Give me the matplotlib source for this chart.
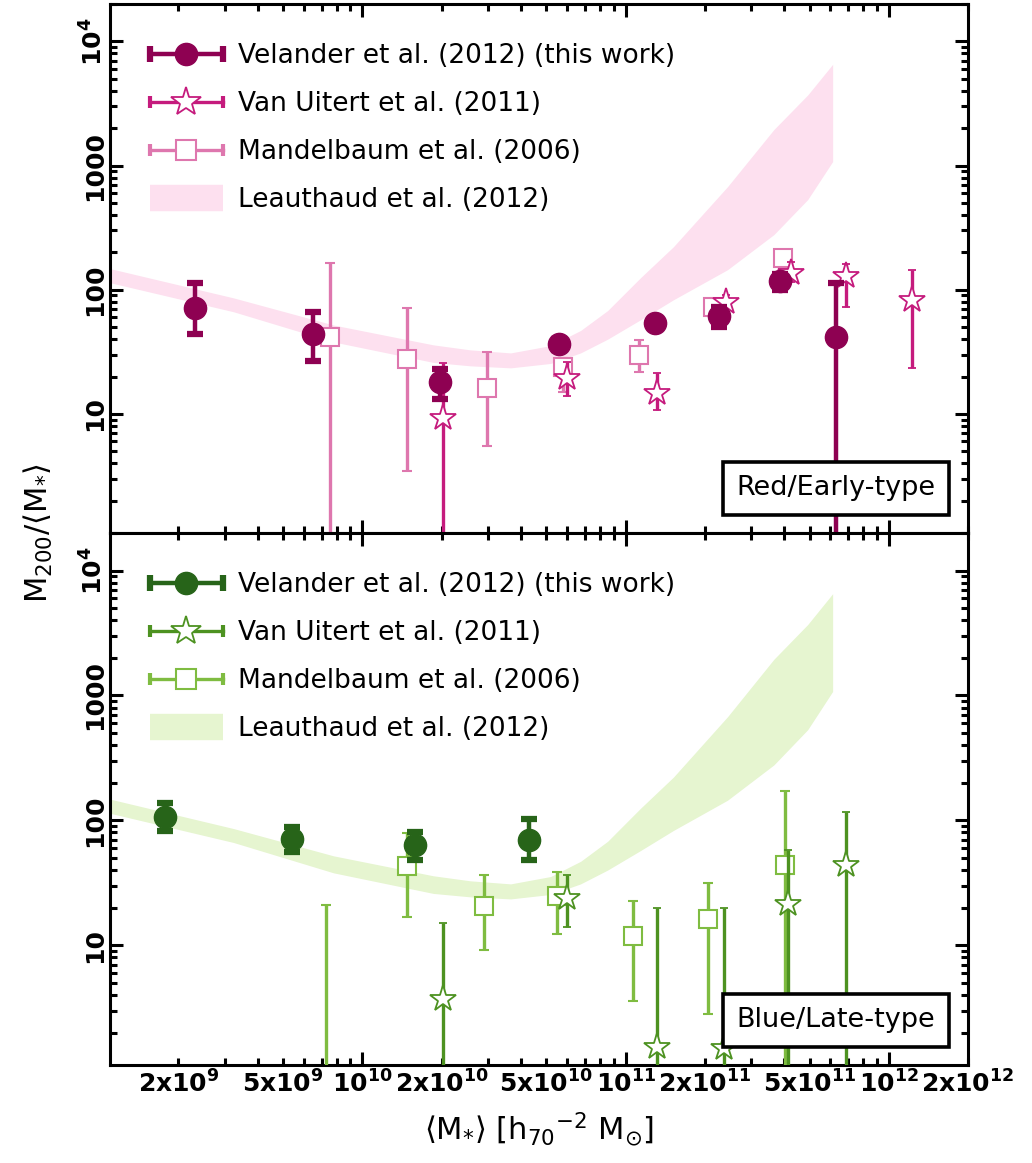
import numpy as np
import matplotlib
matplotlib.use("Agg")
import matplotlib.pyplot as plt
from matplotlib.lines import Line2D
from matplotlib.legend_handler import HandlerLine2D
from matplotlib.ticker import LogLocator, FuncFormatter, NullFormatter

plt.rcParams["font.family"] = ["DejaVu Sans"]
plt.rcParams["mathtext.fontset"] = "dejavusans"

# Leauthaud et al. (2012) prediction band (shared by both panels)
band_mass = [1.1e9, 3.24e9, 7.77e9, 1.86e10, 2.57e10, 3.66e10, 5.19e10, 6.75e10,
             8.55e10, 1.14e11, 1.52e11, 2.44e11, 3.66e11, 4.92e11, 6.12e11]
band_lo = [114, 66.5, 38, 26, 24.4, 23.5, 25.5, 31, 40, 57.3, 83, 145, 278, 532, 1077]
band_hi = [148, 86, 52, 36, 32.8, 31, 35.5, 47, 68, 125, 222, 676, 1950, 3700, 6530]

# red / early-type galaxies
vel_red_m = [2.32e9, 6.5e9, 1.98e10, 5.6e10, 1.29e11, 2.26e11, 3.85e11, 6.3e11]
vel_red_y = [71.6, 44, 18.1, 36.7, 54, 62, 118, 41.8]
vel_red_lo = [44, 26.7, 13.2, 33, 50, 50, 100, 0.3]
vel_red_hi = [114, 66.5, 23, 40, 58, 72, 135, 114]

vu_red_m = [2.03e10, 6.0e10, 1.32e11, 2.4e11, 4.24e11, 6.9e11, 1.23e12]
vu_red_y = [9.3, 19.5, 14.8, 80, 137, 130, 83]
vu_red_lo = [0.3, 14, 10.8, 70, 115, 73, 23.5]
vu_red_hi = [25.8, 26, 21.4, 90, 168, 162, 145]

md_red_m = [7.55e9, 1.48e10, 2.98e10, 5.8e10, 1.12e11, 2.14e11, 3.95e11]
md_red_y = [41.8, 27.8, 16.2, 24, 30, 73, 181]
md_red_lo = [0.3, 3.5, 5.5, 15, 21.8, 65, 150]
md_red_hi = [165, 71.6, 31.6, 28, 39.5, 85, 200]

# blue / late-type galaxies
vel_blue_m = [1.78e9, 5.42e9, 1.58e10, 4.28e10]
vel_blue_y = [106, 70.4, 63, 70]
vel_blue_lo = [81.5, 56, 48, 48.5]
vel_blue_hi = [137, 88, 80, 102]

vu_blue_m = [2.03e10, 6.0e10, 1.32e11, 2.36e11, 4.13e11, 6.9e11]
vu_blue_y = [3.74, 24, 1.53, 1.5, 21.4, 44]
vu_blue_lo = [0.3, 14, 0.3, 0.3, 0.3, 0.3]
vu_blue_hi = [15, 36.7, 19.9, 20, 58, 116]

md_blue_m = [7.3e9, 1.48e10, 2.89e10, 5.5e10, 1.07e11, 2.05e11, 4.03e11]
md_blue_y = [0.5, 43, 20.7, 24.8, 11.8, 16.2, 44]
md_blue_lo = [0.2, 16.8, 9.1, 12.3, 3.6, 2.83, 0.3]
md_blue_hi = [21, 78.5, 36.7, 38.8, 22.6, 31.6, 171]

LABELS = ["Velander et al. (2012) (this work)", "Van Uitert et al. (2011)",
          "Mandelbaum et al. (2006)", "Leauthaud et al. (2012)"]
RED_COLS = ["#8e0152", "#c51b7d", "#de77ae", "#fde0ef"]
BLUE_COLS = ["#276419", "#4d9221", "#7fbc41", "#e6f5d0"]

XLIM = (1.1e9, 2.0e12)
YLIM = (1.1, 2.0e4)


def yerr(y, lo, hi):
    y = np.asarray(y)
    return [y - np.asarray(lo), np.asarray(hi) - y]


def x_fmt(v, pos):
    e = int(np.floor(np.log10(v) + 1e-6))
    m = int(round(v / 10 ** e))
    if m == 1:
        return rf"$\mathbf{{10^{{{e}}}}}$"
    if m in (2, 5):
        return rf"$\mathbf{{{m}x10^{{{e}}}}}$"
    return ""


def y_fmt(v, pos):
    if v >= 1e4:
        return r"$\mathbf{10^{4}}$"
    return f"{int(round(v))}"


def panel(ax, cols, vel, vu, md, tag):
    ax.fill_between(band_mass, band_lo, band_hi, color=cols[3], lw=0, zorder=1)

    ax.errorbar(md[0], md[1], yerr=yerr(*md[1:]), fmt="s", ms=13.5, mfc="white",
                mec=cols[2], mew=1.5, color=cols[2], elinewidth=2.4,
                capsize=3.6, capthick=3, zorder=3)
    ax.errorbar(vu[0], vu[1], yerr=yerr(*vu[1:]), fmt="*", ms=20, mfc="white",
                mec=cols[1], mew=1.3, color=cols[1], elinewidth=2.4,
                capsize=3, capthick=3, zorder=4)
    ax.errorbar(vel[0], vel[1], yerr=yerr(*vel[1:]), fmt="o", ms=16,
                color=cols[0], elinewidth=3.2, capsize=5.8, capthick=4.5, zorder=5)

    ax.set_xscale("log")
    ax.set_yscale("log")
    ax.set_xlim(*XLIM)
    ax.set_ylim(*YLIM)

    ax.xaxis.set_major_locator(LogLocator(base=10))
    ax.xaxis.set_minor_locator(LogLocator(base=10, subs=np.arange(2, 10)))
    ax.xaxis.set_major_formatter(FuncFormatter(x_fmt))
    ax.xaxis.set_minor_formatter(FuncFormatter(x_fmt))
    ax.yaxis.set_major_locator(LogLocator(base=10))
    ax.yaxis.set_minor_locator(LogLocator(base=10, subs=np.arange(2, 10)))
    ax.yaxis.set_major_formatter(FuncFormatter(y_fmt))
    ax.yaxis.set_minor_formatter(NullFormatter())

    ax.tick_params(which="both", direction="in", top=True, right=True, width=2.2)
    ax.tick_params(which="major", length=9.5)
    ax.tick_params(which="minor", length=5)
    ax.tick_params(axis="x", which="both", labelsize=18, pad=4)
    ax.tick_params(axis="y", which="major", labelsize=18, pad=2, labelrotation=90)
    for lab in ax.get_yticklabels():
        lab.set_fontweight("bold")
        lab.set_va("center")
    for s in ax.spines.values():
        s.set_linewidth(2.2)

    # legend with horizontal error-bar style handles
    cap_kw = dict(marker="|", linestyle="-")
    h_vel = Line2D([], [], color=cols[0], lw=3.2, ms=12, mew=4.5, **cap_kw)
    h_vu = Line2D([], [], color=cols[1], lw=2.4, ms=8, mew=3, **cap_kw)
    h_md = Line2D([], [], color=cols[2], lw=2.4, ms=8, mew=3, **cap_kw)
    m_vel = Line2D([], [], color=cols[0], marker="o", ms=16, ls="none")
    m_vu = Line2D([], [], mfc="white", mec=cols[1], mew=1.3, marker="*", ms=22, ls="none")
    m_md = Line2D([], [], mfc="white", mec=cols[2], mew=1.5, marker="s", ms=14, ls="none")
    h_band = Line2D([], [], color=cols[3], lw=19, solid_capstyle="butt")
    caps = HandlerLine2D(numpoints=2, marker_pad=0)
    ax.legend([(h_vel, m_vel), (h_vu, m_vu), (h_md, m_md), h_band], LABELS,
              handler_map={h_vel: caps, h_vu: caps, h_md: caps},
              loc="upper left", bbox_to_anchor=(0.0466, 0.926), frameon=False,
              borderpad=0, borderaxespad=0, fontsize=19, handlelength=2.75,
              handletextpad=0.6, labelspacing=0.83)

    ax.text(0.962, 0.06, tag, transform=ax.transAxes, ha="right", va="bottom",
            fontsize=19.5, zorder=10,
            bbox=dict(boxstyle="square,pad=0.5", fc="white", ec="black", lw=2.6))


fig = plt.figure(figsize=(10.32, 11.63), dpi=100)
ax_top = fig.add_axes([0.1066, 0.5417, 0.8314, 0.4549])
ax_bot = fig.add_axes([0.1066, 0.0843, 0.8314, 0.4574])

panel(ax_top, RED_COLS, (vel_red_m, vel_red_y, vel_red_lo, vel_red_hi),
      (vu_red_m, vu_red_y, vu_red_lo, vu_red_hi),
      (md_red_m, md_red_y, md_red_lo, md_red_hi), "Red/Early-type")
panel(ax_bot, BLUE_COLS, (vel_blue_m, vel_blue_y, vel_blue_lo, vel_blue_hi),
      (vu_blue_m, vu_blue_y, vu_blue_lo, vu_blue_hi),
      (md_blue_m, md_blue_y, md_blue_lo, md_blue_hi), "Blue/Late-type")
ax_top.tick_params(axis="x", which="both", labelbottom=False)

fig.text(0.037, 0.5417, r"M$_{200}$/$\langle$M$_{*}\rangle$", rotation=90,
         ha="center", va="center", fontsize=22)
fig.text(0.522, 0.029, r"$\langle$M$_{*}\rangle$ [h$_{70}$$^{-2}$ M$_{\odot}$]",
         ha="center", va="center", fontsize=22)

fig.savefig("out.png", dpi=100)
